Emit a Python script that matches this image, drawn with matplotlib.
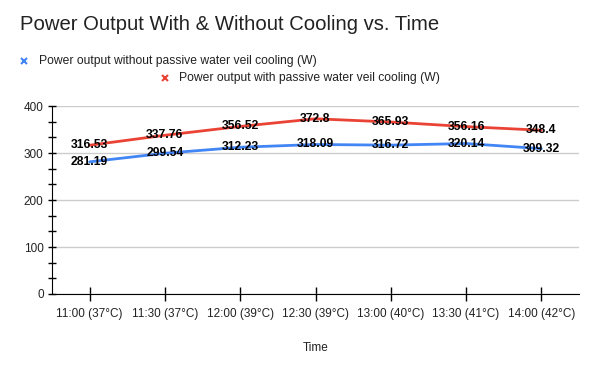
import matplotlib
matplotlib.use("Agg")
import matplotlib.pyplot as plt
from matplotlib.lines import Line2D
from matplotlib.ticker import MultipleLocator
import numpy as np

plt.rcParams['font.family'] = ['Liberation Sans', 'DejaVu Sans']

categories = ["11:00 (37°C)", "11:30 (37°C)", "12:00 (39°C)", "12:30 (39°C)",
              "13:00 (40°C)", "13:30 (41°C)", "14:00 (42°C)"]
without_cooling = [281.19, 299.54, 312.23, 318.09, 316.72, 320.14, 309.32]
with_cooling = [316.53, 337.76, 356.52, 372.8, 365.93, 356.16, 348.4]
series_names = ["Power output without passive water veil cooling (W)",
                "Power output with passive water veil cooling (W)"]
title = "Power Output With & Without Cooling vs. Time"
xlabel = "Time"

blue = "#4285F4"
red = "#EA4335"

fig = plt.figure(figsize=(6, 3.71), dpi=100)
ax = fig.add_axes([52/600, 1-294/371, 527/600, (294-106)/371])

x = np.arange(len(categories))
ax.plot(x, without_cooling, color=blue, lw=2, solid_capstyle='round', zorder=3)
ax.plot(x, with_cooling, color=red, lw=2, solid_capstyle='round', zorder=3)

for xi, v in zip(x, without_cooling):
    ax.text(xi, v, f"{v:g}", ha='center', va='center', fontsize=8.7,
            fontweight='bold', color='black', zorder=4)
for xi, v in zip(x, with_cooling):
    ax.text(xi, v, f"{v:g}", ha='center', va='center', fontsize=8.7,
            fontweight='bold', color='black', zorder=4)

ax.set_xlim(-0.5, len(categories) - 0.5)
ax.set_ylim(0, 400)
ax.yaxis.set_major_locator(MultipleLocator(100))
ax.yaxis.set_minor_locator(MultipleLocator(100/3))
ax.set_xticks(x)
ax.set_xticklabels(categories)
ax.grid(axis='y', color='#CCCCCC', lw=1, zorder=0)
ax.set_axisbelow(True)

for s in ['top', 'right']:
    ax.spines[s].set_visible(False)
ax.spines['left'].set_color('black')
ax.spines['bottom'].set_color('black')
ax.spines['bottom'].set_zorder(5)

ax.tick_params(axis='y', which='major', direction='inout', length=6, width=1,
               labelsize=8.5, colors='black', pad=3)
ax.tick_params(axis='y', which='minor', direction='inout', length=6, width=1, colors='black')
ax.tick_params(axis='x', which='major', direction='inout', length=9.5, width=1,
               labelsize=8.5, colors='black', pad=5)
for lbl in ax.get_xticklabels() + ax.get_yticklabels():
    lbl.set_color('#222222')

ax.set_xlabel(xlabel, fontsize=8.5, color='#222222', labelpad=16)

fig.text(20/600, 1-25/371, title, fontsize=14.6, color='#222222', va='center', ha='left')

# legend
fig.add_artist(Line2D([24/600], [1-61/371], marker='x', color=blue, ms=5, mew=1.5,
                      linestyle='none', transform=fig.transFigure))
fig.text(39/600, 1-61/371, series_names[0], fontsize=8.7, color='#222222', va='center')
fig.add_artist(Line2D([165/600], [1-78/371], marker='x', color=red, ms=5, mew=1.5,
                      linestyle='none', transform=fig.transFigure))
fig.text(179/600, 1-78/371, series_names[1], fontsize=8.7, color='#222222', va='center')

fig.savefig("out.png", dpi=100)
